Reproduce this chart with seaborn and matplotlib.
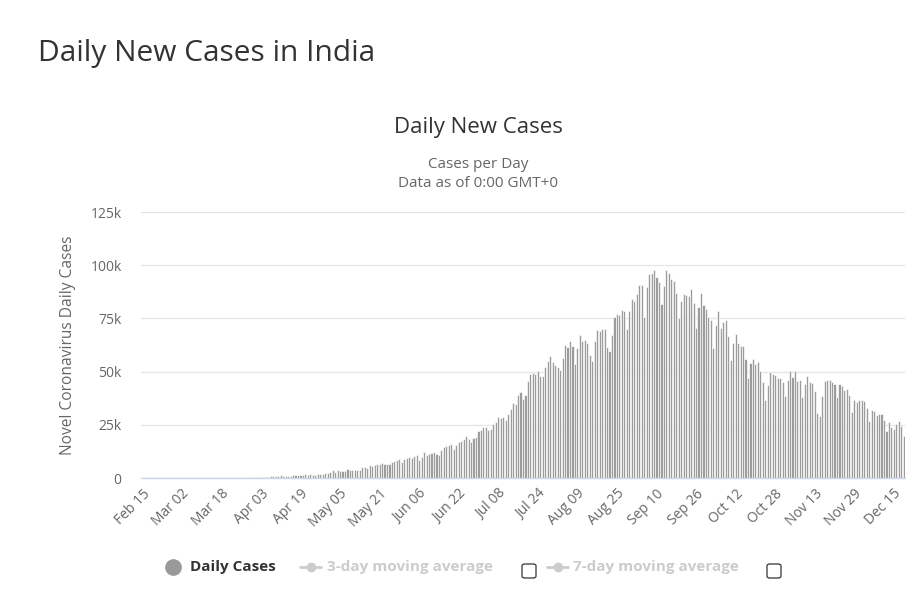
import matplotlib
matplotlib.use("Agg")
import matplotlib.pyplot as plt
from matplotlib.patches import FancyBboxPatch
from matplotlib.lines import Line2D
import seaborn as sns
import pandas as pd

# ---------------- data ----------------
start_date = "2020-02-15"
feb = [0] * 13
mar = [0, 2, 1, 22, 2, 1, 3, 5, 4, 13, 6, 11, 9, 20, 11, 6, 23, 14, 38, 50, 86, 66,
       103, 37, 121, 70, 160, 100, 74, 227, 146]
apr = [424, 486, 560, 579, 609, 484, 573, 565, 813, 871, 854, 758, 1243, 1031, 886,
       1061, 922, 1371, 1580, 1239, 1537, 1292, 1667, 1408, 1835, 1607, 1561, 1873,
       1738, 1801]
may = [2394, 2564, 2952, 3656, 2971, 3602, 3344, 3339, 3175, 4311, 3592, 3562, 3726,
       3967, 3970, 4987, 5050, 4628, 6147, 5553, 6198, 6568, 6629, 7113, 6414, 6535,
       6387, 7466, 7964, 8336, 8789]
jun = [7723, 8821, 9633, 9889, 9471, 10408, 10882, 8442, 9987, 12375, 10956, 11306,
       11929, 12024, 11086, 10667, 13103, 14516, 14933, 15403, 15918, 13540, 15656,
       16868, 17296, 18552, 19906, 18522, 17009, 18653]
jul = [19428, 21947, 22721, 24018, 23932, 22510, 23135, 25561, 26506, 28637, 28137,
       28701, 27114, 29917, 32607, 35468, 34820, 38902, 40243, 37148, 39170, 45599,
       48916, 49310, 48661, 50072, 47703, 47704, 52123, 55078, 57118]
aug = [54735, 52972, 52050, 50629, 56282, 62538, 61537, 64399, 62064, 53601, 60963,
       66999, 64553, 65002, 63490, 57981, 55079, 64572, 69652, 68898, 70067, 69874,
       61408, 59696, 67151, 75760, 77266, 76472, 78761, 78512, 69921]
sep = [78357, 83883, 83341, 86432, 90632, 90802, 75809, 89706, 95735, 96551, 97570,
       94372, 92071, 81911, 90123, 97894, 96424, 93337, 92605, 86961, 75083, 83347,
       86508, 86052, 85362, 88600, 82170, 70589, 80472, 86821]
oct_ = [81484, 79476, 75829, 74442, 61267, 72049, 78524, 70496, 73272, 74383, 66732,
        55342, 63509, 67708, 63371, 62212, 61871, 55722, 46791, 54044, 55838, 53370,
        54366, 50129, 45149, 36469, 43893, 49881, 48648, 48268, 46963]
nov = [46964, 45231, 38310, 46253, 50210, 47638, 50357, 45674, 45903, 38073, 44281,
       47905, 44878, 44684, 41100, 30548, 29164, 38617, 45576, 45882, 46232, 45209,
       44059, 37975, 44376, 43082, 41322, 41810, 38772, 31118]
dec = [36604, 35668, 36595, 36652, 36011, 32981, 26567, 32080, 31521, 29398, 30006,
       30254, 27071, 22065, 26382, 24010, 22890, 25153, 26624, 24337, 19556]
daily_cases = feb + mar + apr + may + jun + jul + aug + sep + oct_ + nov + dec

tick_labels = ["Feb 15", "Mar 02", "Mar 18", "Apr 03", "Apr 19", "May 05", "May 21",
               "Jun 06", "Jun 22", "Jul 08", "Jul 24", "Aug 09", "Aug 25", "Sep 10",
               "Sep 26", "Oct 12", "Oct 28", "Nov 13", "Nov 29", "Dec 15"]
y_ticks = [0, 25000, 50000, 75000, 100000, 125000]
y_tick_labels = ["0", "25k", "50k", "75k", "100k", "125k"]

dates = pd.date_range(start_date, periods=len(daily_cases), freq="D")
df = pd.DataFrame({"date": dates.strftime("%b %d"), "cases": daily_cases})

# ---------------- figure ----------------
sns.set_theme(style="white")
plt.rcParams["font.family"] = ["Open Sans", "DejaVu Sans"]

W, H = 918, 603
fig = plt.figure(figsize=(W / 100, H / 100), dpi=100)
ax = fig.add_axes([141 / W, 1 - 478 / H, (905 - 141) / W, (478 - 212) / H])

sns.barplot(data=df, x="date", y="cases", color="#9c9c9c", saturation=1,
            width=0.85, edgecolor="white", linewidth=0.45, ax=ax)

ax.set_ylim(0, 125000)
ax.set_xlim(-0.5, len(daily_cases) - 0.5)
ax.set_yticks(y_ticks)
ax.set_yticklabels(y_tick_labels, color="#666666", fontsize=10)
ax.yaxis.grid(True, color="#e6e6e6", linewidth=1)
ax.set_axisbelow(True)

tick_pos = list(range(0, len(daily_cases), 16))[:len(tick_labels)]
ax.set_xticks(tick_pos)
ax.set_xticklabels(tick_labels, rotation=45, ha="right", rotation_mode="anchor",
                   color="#666666", fontsize=10)
ax.tick_params(axis="x", length=0, pad=6)
ax.tick_params(axis="y", length=0, pad=14)

for s in ["top", "right", "left"]:
    ax.spines[s].set_visible(False)
ax.spines["bottom"].set_color("#ccd6eb")
ax.spines["bottom"].set_linewidth(1)

ax.set_xlabel("")
ax.set_ylabel("Novel Coronavirus Daily Cases", color="#666666", fontsize=11.2,
              labelpad=10)

# titles
fig.text(38 / W, 1 - 53 / H, "Daily New Cases in India", fontsize=21.5,
         color="#333333", ha="left", va="center")
fig.text(478 / W, 1 - 127 / H, "Daily New Cases", fontsize=16, color="#333333",
         ha="center", va="center")
fig.text(478 / W, 1 - 164 / H, "Cases per Day", fontsize=11, color="#666666",
         ha="center", va="center")
fig.text(478 / W, 1 - 183 / H, "Data as of 0:00 GMT+0", fontsize=11, color="#666666",
         ha="center", va="center")

# legend (drawn manually in figure pixel coordinates)
ly = 1 - 567 / H
fig.add_artist(Line2D([173 / W], [ly], marker="o", markersize=11, color="#999999",
                      transform=fig.transFigure))
fig.text(190 / W, ly, "Daily Cases", fontsize=11, fontweight="bold",
         color="#333333", ha="left", va="center")

for x0, x1, xt, label, xb in [(300, 321, 327, "3-day moving average", 522),
                              (547, 568, 573, "7-day moving average", 767)]:
    fig.add_artist(Line2D([x0 / W, x1 / W], [ly, ly], color="#cccccc", linewidth=2,
                          transform=fig.transFigure))
    fig.add_artist(Line2D([(x0 + x1) / 2 / W], [ly], marker="o", markersize=6,
                          color="#cccccc", transform=fig.transFigure))
    fig.text(xt / W, ly, label, fontsize=11, fontweight="bold", color="#cccccc",
             ha="left", va="center")
    box = FancyBboxPatch((xb / W, 1 - 578 / H), 14 / W, 14 / H,
                         boxstyle="round,pad=0,rounding_size=0.003",
                         transform=fig.transFigure, facecolor="white",
                         edgecolor="#333333", linewidth=0.9)
    fig.add_artist(box)

fig.savefig("out.png", dpi=100, facecolor="white")
